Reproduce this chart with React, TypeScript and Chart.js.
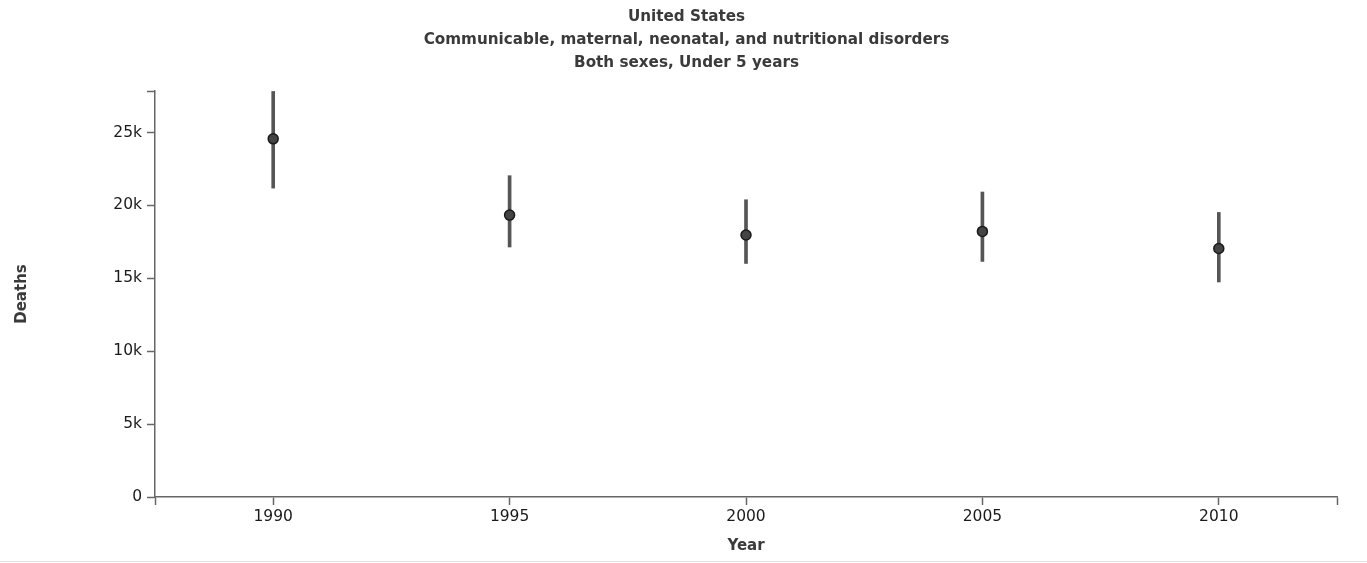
import React, { useEffect, useRef } from "react";
import { Chart, registerables } from "chart.js";

Chart.register(...registerables);

// Under-5 deaths from communicable, maternal, neonatal and nutritional disorders
const years = [1990, 1995, 2000, 2005, 2010];
const meanDeaths = [24570, 19340, 17970, 18220, 17050];
const lowerDeaths = [21190, 17150, 16020, 16160, 14750];
const upperDeaths = [27820, 22040, 20390, 20920, 19520];

const titleLines = [
  "United States",
  "Communicable, maternal, neonatal, and nutritional disorders",
  "Both sexes, Under 5 years",
];
const xAxisTitle = "Year";
const yAxisTitle = "Deaths";

// Axis extents; the end values carry an unlabelled cap tick
const xMin = 1987.5;
const xMax = 2012.5;
const xTickValues = [1990, 1995, 2000, 2005, 2010];
const yMax = 27850;
const yTickValues = [0, 5000, 10000, 15000, 20000, 25000];

const FONT = "'DejaVu Sans', Verdana, sans-serif";
const AXIS_COLOR = "#666";

export default function App() {
  const canvasRef = useRef<HTMLCanvasElement | null>(null);

  useEffect(() => {
    const canvas = canvasRef.current;
    if (!canvas) return;

    const chart = new Chart(canvas, {
      type: "bar",
      data: {
        datasets: [
          {
            type: "scatter",
            label: "Mean",
            data: years.map((x, i) => ({ x, y: meanDeaths[i] })),
            pointRadius: 5,
            pointHoverRadius: 5,
            pointBackgroundColor: "#444",
            pointBorderColor: "#1a1a1a",
            pointBorderWidth: 1.5,
            order: 0,
          } as any,
          {
            type: "bar",
            label: "Uncertainty interval",
            data: years.map((x, i) => ({ x, y: [lowerDeaths[i], upperDeaths[i]] })) as any,
            backgroundColor: "#555",
            borderWidth: 0,
            barThickness: 3,
            order: 1,
          } as any,
        ],
      },
      options: {
        responsive: false,
        animation: false,
        events: [],
        layout: { padding: { left: 6, right: 0, top: 0, bottom: 0 } },
        plugins: {
          legend: { display: false },
          tooltip: { enabled: false },
          title: {
            display: true,
            text: titleLines,
            color: "#3a3a3a",
            font: { family: FONT, size: 15.2, weight: "bold", lineHeight: "23px" },
            padding: { top: 5.5, bottom: 16.5 },
          },
        },
        scales: {
          x: {
            type: "linear",
            min: xMin,
            max: xMax,
            offset: false,
            afterBuildTicks: (scale: any) => {
              scale.ticks = [xMin, ...xTickValues, xMax].map((value) => ({ value }));
            },
            afterFit: (scale: any) => {
              scale.height = 66;
              scale.paddingLeft = 0;
              scale.paddingRight = 30;
            },
            grid: {
              offset: false,
              drawOnChartArea: false,
              drawTicks: true,
              tickLength: 8,
              tickWidth: 1.5,
              tickColor: AXIS_COLOR,
            },
            border: { display: true, color: AXIS_COLOR, width: 1.5 },
            ticks: {
              autoSkip: false,
              maxRotation: 0,
              padding: 3,
              color: "#1a1a1a",
              font: { family: FONT, size: 15.5 },
              callback: (v: any) => {
                const n = Number(v);
                return xTickValues.includes(n) ? String(n) : "";
              },
            },
            title: {
              display: true,
              text: xAxisTitle,
              color: "#3a3a3a",
              font: { family: FONT, size: 15, weight: "bold" },
              padding: { top: 0, bottom: 8 },
            },
          },
          y: {
            type: "linear",
            min: 0,
            max: yMax,
            afterBuildTicks: (scale: any) => {
              scale.ticks = [...yTickValues, yMax].map((value) => ({ value }));
            },
            afterFit: (scale: any) => {
              scale.width = 149;
              scale.paddingTop = 0;
              scale.paddingBottom = 0;
            },
            grid: {
              drawOnChartArea: false,
              drawTicks: true,
              tickLength: 8,
              tickWidth: 1.5,
              tickColor: AXIS_COLOR,
            },
            border: { display: true, color: AXIS_COLOR, width: 1.5 },
            ticks: {
              autoSkip: false,
              padding: 5,
              color: "#1a1a1a",
              font: { family: FONT, size: 15.5 },
              callback: (v: any) => {
                const n = Number(v);
                if (!yTickValues.includes(n)) return "";
                return n === 0 ? "0" : `${n / 1000}k`;
              },
            },
            title: {
              display: true,
              text: yAxisTitle,
              color: "#3a3a3a",
              font: { family: FONT, size: 15, weight: "bold" },
              padding: { top: 7, bottom: 0 },
            },
          },
        },
      } as any,
    });

    return () => chart.destroy();
  }, []);

  return (
    <div
      style={{
        position: "fixed",
        left: 0,
        top: 0,
        width: 1367,
        height: 563,
        background: "#fff",
      }}
    >
      <canvas ref={canvasRef} width={1367} height={563} style={{ display: "block" }} />
      <div
        style={{
          position: "absolute",
          left: 0,
          top: 561,
          width: 1367,
          height: 1,
          background: "#e2e2e2",
        }}
      />
    </div>
  );
}
